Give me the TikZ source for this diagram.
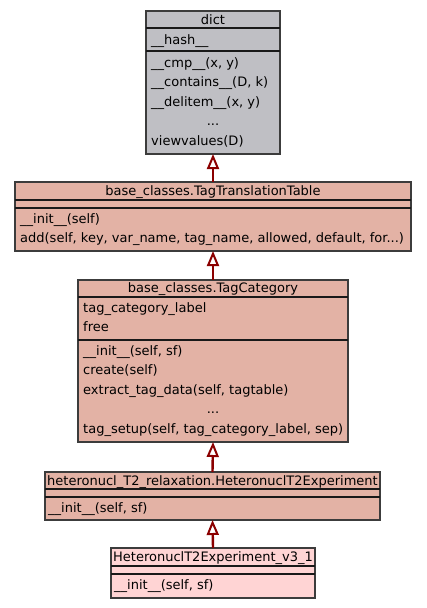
\documentclass[tikz,border=0pt]{standalone}
\usepackage{fontspec}
\setmainfont{DejaVu Sans}
\usetikzlibrary{arrows.meta}
\definecolor{dictcol}{RGB}{191,191,196}
\definecolor{salmon}{RGB}{227,178,165}
\definecolor{pinkc}{RGB}{255,212,212}
\definecolor{bordercol}{RGB}{60,60,60}
\definecolor{arrowcol}{RGB}{139,0,0}
\tikzset{
  box/.style={draw=bordercol, line width=1.3pt, inner sep=0pt, outer sep=0pt, anchor=north west, rectangle},
  sepl/.style={draw=black!90, line width=1.3pt},
  txt/.style={anchor=base west, inner sep=0pt, font=\fontsize{13}{15}\selectfont},
  ttl/.style={anchor=base, inner sep=0pt, font=\fontsize{13}{15}\selectfont},
  inh/.style={draw=arrowcol, line width=2.4pt, -{Triangle[open, length=15pt, width=12pt, line width=2pt]}}
}
\begin{document}
\begin{tikzpicture}[x=1pt, y=-1pt]
\useasboundingbox[fill=white] (0,0) rectangle (427,608);

% dict
\node[box, fill=dictcol, minimum width=134pt, minimum height=143pt] (dict) at (146,11) {};
\draw[sepl] (146,28) -- (280,28);
\draw[sepl] (146,51) -- (280,51);
\node[ttl] (dictT) at (213,24) {dict};
\node[txt] (dictA1) at (151,44) {\_\_hash\_\_};
\node[txt] (dictM1) at (151,67) {\_\_cmp\_\_(x, y)};
\node[txt] (dictM2) at (151,86.5) {\_\_contains\_\_(D, k)};
\node[txt] (dictM3) at (151,106) {\_\_delitem\_\_(x, y)};
\node[ttl] (dictM4) at (213,125.5) {...};
\node[txt] (dictM5) at (151,145) {viewvalues(D)};

% TagTranslationTable
\node[box, fill=salmon, minimum width=396pt, minimum height=69pt] (ttt) at (15,182) {};
\draw[sepl] (15,200) -- (411,200);
\draw[sepl] (15,208) -- (411,208);
\node[ttl] (tttT) at (213,195) {base\_classes.TagTranslationTable};
\node[txt] (tttM1) at (20,223) {\_\_init\_\_(self)};
\node[txt] (tttM2) at (20,242.5) {add(self, key, var\_name, tag\_name, allowed, default, for...)};

% TagCategory
\node[box, fill=salmon, minimum width=270pt, minimum height=162pt] (tc) at (78,280) {};
\draw[sepl] (78,297) -- (348,297);
\draw[sepl] (78,340) -- (348,340);
\node[ttl] (tcT) at (213,292) {base\_classes.TagCategory};
\node[txt] (tcA1) at (83,312) {tag\_category\_label};
\node[txt] (tcA2) at (83,331.5) {free};
\node[txt] (tcM1) at (83,355) {\_\_init\_\_(self, sf)};
\node[txt] (tcM2) at (83,374.5) {create(self)};
\node[txt] (tcM3) at (83,394) {extract\_tag\_data(self, tagtable)};
\node[ttl] (tcM4) at (213,413.5) {...};
\node[txt] (tcM5) at (83,433.5) {tag\_setup(self, tag\_category\_label, sep)};

% HeteronuclT2Experiment
\node[box, fill=salmon, minimum width=335pt, minimum height=48pt] (het) at (45,472) {};
\draw[sepl] (45,489) -- (380,489);
\draw[sepl] (45,497) -- (380,497);
\node[ttl] (hetT) at (212.5,485) {heteronucl\_T2\_relaxation.HeteronuclT2Experiment};
\node[txt] (hetM1) at (48,512) {\_\_init\_\_(self, sf)};

% v3_1
\node[box, fill=pinkc, minimum width=204pt, minimum height=50pt] (v3) at (111,548) {};
\draw[sepl] (111,566) -- (315,566);
\draw[sepl] (111,574) -- (315,574);
\node[ttl] (v3T) at (213,561) {HeteronuclT2Experiment\_v3\_1};
\node[txt] (v3M1) at (114,589) {\_\_init\_\_(self, sf)};

% inheritance
\draw[inh] (ttt.north) -- (dict.south);
\draw[inh] (tc.north) -- (ttt.south);
\draw[inh] (het.north) -- (tc.south);
\draw[inh] (v3.north) -- (het.south);
\end{tikzpicture}
\end{document}
